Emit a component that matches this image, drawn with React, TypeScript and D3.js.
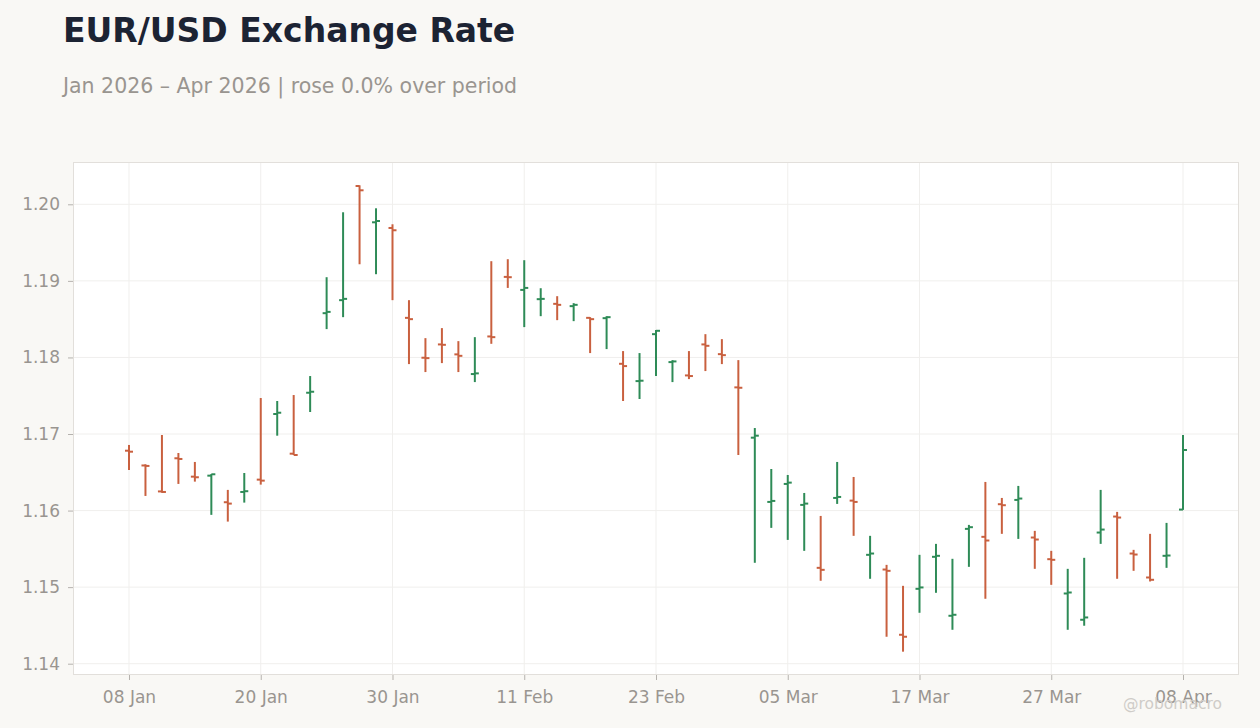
import React, { useEffect, useRef } from "react";
import * as d3 from "d3";

// business days, 8 Jan – 8 Apr 2026
const dates = [
  "2026-01-08", "2026-01-09", "2026-01-12", "2026-01-13", "2026-01-14", "2026-01-15", "2026-01-16",
  "2026-01-19", "2026-01-20", "2026-01-21", "2026-01-22", "2026-01-23", "2026-01-26", "2026-01-27",
  "2026-01-28", "2026-01-29", "2026-01-30", "2026-02-02", "2026-02-03", "2026-02-04", "2026-02-05",
  "2026-02-06", "2026-02-09", "2026-02-10", "2026-02-11", "2026-02-12", "2026-02-13", "2026-02-16",
  "2026-02-17", "2026-02-18", "2026-02-19", "2026-02-20", "2026-02-23", "2026-02-24", "2026-02-25",
  "2026-02-26", "2026-02-27", "2026-03-02", "2026-03-03", "2026-03-04", "2026-03-05", "2026-03-06",
  "2026-03-09", "2026-03-10", "2026-03-11", "2026-03-12", "2026-03-13", "2026-03-16", "2026-03-17",
  "2026-03-18", "2026-03-19", "2026-03-20", "2026-03-23", "2026-03-24", "2026-03-25", "2026-03-26",
  "2026-03-27", "2026-03-30", "2026-03-31", "2026-04-01", "2026-04-02", "2026-04-03", "2026-04-06",
  "2026-04-07", "2026-04-08",
];

const open = [
  1.16782, 1.16589, 1.1625, 1.16683, 1.16443, 1.16456, 1.16109, 1.16243, 1.16404, 1.17261, 1.16743,
  1.17539, 1.18578, 1.18748, 1.20239, 1.19765, 1.19691, 1.18517, 1.17996, 1.1817, 1.1804, 1.17783,
  1.18274, 1.19052, 1.18882, 1.18761, 1.187, 1.1867, 1.18517, 1.18513, 1.17917, 1.17691, 1.18304,
  1.17939, 1.17765, 1.1817, 1.18043, 1.17609, 1.16952, 1.16113, 1.16348, 1.16074, 1.15252, 1.16165,
  1.1613, 1.15422, 1.1523, 1.14378, 1.14978, 1.15396, 1.14626, 1.15761, 1.15657, 1.16083, 1.16139,
  1.15648, 1.15365, 1.14917, 1.14574, 1.15713, 1.15922, 1.15439, 1.15126, 1.15409, 1.16013,
];
const high = [
  1.16857, 1.16605, 1.16987, 1.16752, 1.16635, 1.16478, 1.1627, 1.16491, 1.1747, 1.17431, 1.17509,
  1.17757, 1.19048, 1.19896, 1.20248, 1.19948, 1.19739, 1.18748, 1.18252, 1.18383, 1.18213, 1.18265,
  1.19257, 1.19283, 1.1927, 1.18904, 1.188, 1.18709, 1.18526, 1.18539, 1.18083, 1.18057, 1.18357,
  1.17965, 1.18083, 1.18304, 1.18239, 1.17965, 1.17078, 1.16543, 1.16465, 1.1623, 1.1593, 1.16635,
  1.16439, 1.1567, 1.15291, 1.15017, 1.15422, 1.15565, 1.1537, 1.15813, 1.16374, 1.16165, 1.16322,
  1.15735, 1.15474, 1.15239, 1.15383, 1.1627, 1.15983, 1.15487, 1.15696, 1.15839, 1.16987,
];
const low = [
  1.1653, 1.16191, 1.16233, 1.16348, 1.16378, 1.15944, 1.15856, 1.16104, 1.16339, 1.16978, 1.16726,
  1.17287, 1.1837, 1.18526, 1.19217, 1.19087, 1.18748, 1.17913, 1.17809, 1.17926, 1.17809, 1.17678,
  1.18178, 1.18908, 1.18396, 1.18539, 1.18487, 1.18474, 1.18057, 1.18109, 1.17431, 1.17457, 1.17757,
  1.17678, 1.17717, 1.17822, 1.17913, 1.16726, 1.15318, 1.15774, 1.15617, 1.15474, 1.15083, 1.16087,
  1.1567, 1.15109, 1.14352, 1.14157, 1.14665, 1.14926, 1.14443, 1.15265, 1.14848, 1.15696, 1.1563,
  1.15239, 1.1503, 1.14443, 1.14496, 1.15565, 1.15109, 1.15213, 1.15074, 1.15252, 1.16009,
];
const close = [
  1.16769, 1.16583, 1.16243, 1.16674, 1.16435, 1.16474, 1.16091, 1.16253, 1.16391, 1.17278, 1.16726,
  1.17552, 1.18595, 1.18765, 1.20183, 1.19782, 1.19661, 1.185, 1.17991, 1.18165, 1.18021, 1.17792,
  1.18265, 1.19048, 1.18908, 1.18765, 1.18687, 1.18687, 1.185, 1.18526, 1.17887, 1.17696, 1.18348,
  1.17948, 1.17757, 1.18152, 1.1803, 1.17604, 1.16978, 1.16126, 1.16365, 1.16091, 1.15226, 1.16178,
  1.16113, 1.15439, 1.15213, 1.14352, 1.14996, 1.15409, 1.14639, 1.15783, 1.15609, 1.1607, 1.16157,
  1.15622, 1.15357, 1.1493, 1.14604, 1.15752, 1.15909, 1.15426, 1.15096, 1.15413, 1.16791,
];

const yTicks = [1.14, 1.15, 1.16, 1.17, 1.18, 1.19, 1.2];

const W = 1260;
const H = 728;
const FONT = "DejaVu Sans, sans-serif";
const UP = "#2e8b57";
const DOWN = "#c9603f";

const App = () => {
  const ref = useRef<SVGSVGElement>(null);

  useEffect(() => {
    document.body.style.margin = "0";
    const svg = d3.select(ref.current);
    svg.selectAll("*").remove();

    const m = { left: 73, right: 21, top: 162, bottom: 53 };
    const x0 = m.left, x1 = W - m.right, y0 = m.top, y1 = H - m.bottom;

    const bars = dates.map((d, i) => ({
      date: d, o: open[i], h: high[i], l: low[i], c: close[i],
    }));

    const minV = d3.min(low)!;
    const maxV = d3.max(high)!;
    const pad = (maxV - minV) * 0.05;

    const x = d3.scalePoint<string>().domain(dates).range([x0, x1]).padding(3.4);
    const y = d3.scaleLinear().domain([minV - pad, maxV + pad]).range([y1, y0]);

    const fmt = d3.timeFormat("%d %b");
    const parse = d3.timeParse("%Y-%m-%d");
    const tickDates = dates.filter((_, i) => i % 8 === 0);

    svg.append("rect").attr("width", W).attr("height", H).attr("fill", "#f9f8f5");

    svg.append("rect")
      .attr("x", x0).attr("y", y0)
      .attr("width", x1 - x0).attr("height", y1 - y0)
      .attr("fill", "#ffffff");

    // grid
    const grid = svg.append("g");
    grid.selectAll(".hg").data(yTicks).enter().append("line")
      .attr("x1", x0).attr("x2", x1)
      .attr("y1", d => y(d)).attr("y2", d => y(d))
      .attr("stroke", "#f0efed").attr("stroke-width", 1);
    grid.selectAll(".vg").data(tickDates).enter().append("line")
      .attr("y1", y0).attr("y2", y1)
      .attr("x1", d => x(d)!).attr("x2", d => x(d)!)
      .attr("stroke", "#f0efed").attr("stroke-width", 1);

    svg.append("rect")
      .attr("x", x0 + 0.5).attr("y", y0 + 0.5)
      .attr("width", x1 - x0 - 1).attr("height", y1 - y0 - 1)
      .attr("fill", "none").attr("stroke", "#e2dfdb");

    // axes
    const yAxis = svg.append("g")
      .attr("transform", `translate(${x0},0)`)
      .call(d3.axisLeft(y).tickValues(yTicks).tickFormat(d3.format(".2f")).tickSize(5).tickPadding(8));
    const xAxis = svg.append("g")
      .attr("transform", `translate(0,${y1})`)
      .call(d3.axisBottom(x).tickValues(tickDates).tickFormat(d => fmt(parse(d)!)).tickSize(5).tickPadding(11));
    [yAxis, xAxis].forEach(a => {
      a.select(".domain").remove();
      a.selectAll("line").attr("stroke", "#b5b2ae");
      a.selectAll("text").attr("fill", "#999590").attr("font-size", 17).attr("font-family", FONT);
    });

    // OHLC bars
    const g = svg.append("g");
    const col = (d: any) => (d.c >= d.o ? UP : DOWN);
    g.selectAll(".wick").data(bars).enter().append("line")
      .attr("x1", d => x(d.date)!).attr("x2", d => x(d.date)!)
      .attr("y1", d => y(d.h)).attr("y2", d => y(d.l))
      .attr("stroke", col).attr("stroke-width", 2);
    g.selectAll(".open").data(bars).enter().append("line")
      .attr("x1", d => x(d.date)! - 4).attr("x2", d => x(d.date)!)
      .attr("y1", d => y(d.o)).attr("y2", d => y(d.o))
      .attr("stroke", col).attr("stroke-width", 2);
    g.selectAll(".close").data(bars).enter().append("line")
      .attr("x1", d => x(d.date)!).attr("x2", d => x(d.date)! + 4)
      .attr("y1", d => y(d.c)).attr("y2", d => y(d.c))
      .attr("stroke", col).attr("stroke-width", 2);

    // titles
    svg.append("text").attr("x", 63).attr("y", 42)
      .attr("font-family", FONT).attr("font-weight", "bold").attr("font-size", 33)
      .attr("fill", "#1c2333").text("EUR/USD Exchange Rate");
    svg.append("text").attr("x", 63).attr("y", 93)
      .attr("font-family", FONT).attr("font-size", 20.5)
      .attr("fill", "#999590").text("Jan 2026 – Apr 2026 | rose 0.0% over period");
    svg.append("text").attr("x", 1222).attr("y", 709).attr("text-anchor", "end")
      .attr("font-family", FONT).attr("font-size", 15.5)
      .attr("fill", "#cfccc8").text("@robomacro");
  }, []);

  return <svg ref={ref} width={W} height={H} style={{ display: "block" }}></svg>;
};

export default App;
